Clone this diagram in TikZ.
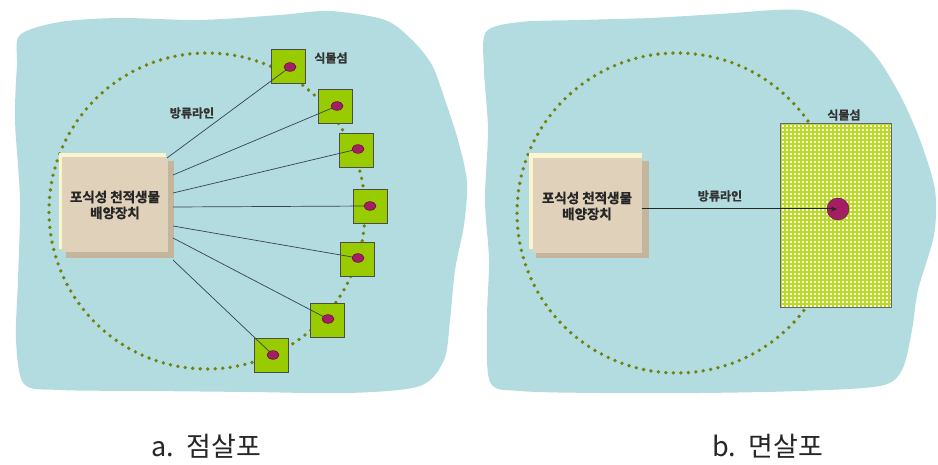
\documentclass[tikz,border=0pt]{standalone}
\usepackage{fontspec}
\newfontfamily\kr{Noto Sans CJK KR}
\newfontfamily\krb{Noto Sans CJK KR Bold}[FakeBold=1.2]
\usetikzlibrary{arrows.meta,shapes.geometric}
\definecolor{sea}{RGB}{178,220,224}
\definecolor{olivedot}{RGB}{115,130,15}
\definecolor{isl}{RGB}{153,204,0}
\definecolor{islline}{RGB}{185,220,35}
\definecolor{plum}{RGB}{165,30,100}
\definecolor{tanface}{RGB}{224,209,186}
\definecolor{tanshadow}{RGB}{196,182,156}
\definecolor{tanlight}{RGB}{252,244,205}
\definecolor{wire}{RGB}{55,65,80}
\tikzset{
  blob/.style={fill=sea, draw=none},
  ring/.style={draw=olivedot, line width=3.8pt, line cap=round, dash pattern=on 0pt off 7.5pt},
  facebox/.style={fill=tanface, draw=none, minimum width=106pt, minimum height=95pt, inner sep=0pt, align=center, font=\krb\fontsize{13.5}{16}\selectfont, text=black!85},
  islbox/.style={fill=isl, draw=black!70, line width=0.5pt, minimum size=34pt, inner sep=0pt},
  seed/.style={ellipse, fill=plum, draw=plum!60!black, line width=0.4pt, minimum width=12pt, minimum height=8.5pt, inner sep=0pt},
  wireline/.style={draw=wire, line width=0.7pt},
  lbl/.style={font=\krb\fontsize{12}{14}\selectfont, text=black!80, inner sep=0pt},
  captext/.style={font=\kr\fontsize{27}{30}\selectfont, text=black!85, inner sep=0pt}
}
\begin{document}
\begin{tikzpicture}[x=1pt,y=-1pt]
\useasboundingbox (0,0) rectangle (938,465);
\fill[white] (0,0) rectangle (938,465);
% --- blobs
\fill[blob] plot[smooth cycle, tension=0.5] coordinates {(20,35) (60,22) (120,18) (200,20) (280,15) (330,11) (385,20) (412,40) (432,65) (445,100) (458,140) (467,182) (464,225) (455,270) (450,320) (444,360) (420,386) (350,393) (250,392) (150,391) (60,390) (24,384) (16,340) (18,280) (20,200) (15,120) (17,65)};
\fill[blob] plot[smooth cycle, tension=0.5] coordinates {(486,32) (520,22) (580,20) (650,18) (720,14) (800,10) (845,28) (875,55) (900,95) (920,140) (935,190) (934,235) (918,290) (912,330) (902,370) (880,386) (800,391) (700,393) (600,393) (520,391) (490,382) (487,320) (489,260) (485,200) (488,130) (484,70)};
% ================= panel a
\draw[ring] (207,211) circle (158);
\fill[tanlight] (59,153) rectangle (166,249);
\fill[tanshadow] (66,161) rectangle (174,258);
\node[facebox] (boxA) at (115,205) {포식성 천적생물\\배양장치};
\foreach \i/\x/\y in {1/288/66, 2/335/106, 3/356/150, 4/370/206, 5/357/259, 6/327/320, 7/271/355}{
  \node[islbox] (s\i) at (\x,\y) {};
}
\foreach \i/\x/\y in {1/290/67, 2/337/106, 3/358/149, 4/370/206, 5/358/258, 6/328/319, 7/273/355}{
  \node[seed] (d\i) at (\x,\y) {};
}
\coordinate (o1) at (167,158);
\coordinate (o2) at (173,175);
\coordinate (o3) at (173,193);
\coordinate (o4) at (173,207);
\coordinate (o5) at (173,226);
\coordinate (o6) at (173,238);
\coordinate (o7) at (173,260);
\foreach \i in {1,...,7}{ \draw[wireline] (o\i) -- (d\i.center); }
\foreach \i in {1,...,7}{ \node[seed] at (d\i) {}; }
\node[lbl] (ra) at (192,113) {방류라인};
\node[lbl] (ia) at (331,58) {식물섬};
% ================= panel b
\begin{scope}
\clip (475,0) rectangle (938,465);
\draw[ring] (677,213) circle (160);
\end{scope}
\fill[tanlight] (529,153) rectangle (642,249);
\fill[tanshadow] (536,161) rectangle (649,258);
\node[facebox, minimum width=109pt] (boxB) at (587,206) {포식성 천적생물\\배양장치};
% field
\fill[white] (780,123) rectangle (891,307);
\begin{scope}
\clip (780,123) rectangle (891,307);
\foreach \k in {0,...,28}{ \draw[islline, line width=1.8pt] (781+4*\k,123) -- (781+4*\k,307); }
\foreach \k in {0,...,46}{ \draw[islline, line width=1.8pt] (780,124+4*\k) -- (891,124+4*\k); }
\end{scope}
\draw[black!60, line width=0.6pt] (780,123) rectangle (891,307);
\node[circle, fill=plum, draw=plum!60!black, line width=0.4pt, minimum size=22pt, inner sep=0pt] (dB) at (838,209) {};
\draw[draw=black!85, line width=1pt, -{Stealth[length=6pt,width=5pt]}] (boxB.east |- dB) -- ([xshift=-1pt]dB.center);
\node[lbl] (rb) at (720,196) {방류라인};
\node[lbl] (ib) at (844,115) {식물섬};
% captions
\node[captext] (ca) at (206,446) {a.\, 점살포};
\node[captext] (cb) at (768,446) {b.\, 면살포};
\end{tikzpicture}
\end{document}
